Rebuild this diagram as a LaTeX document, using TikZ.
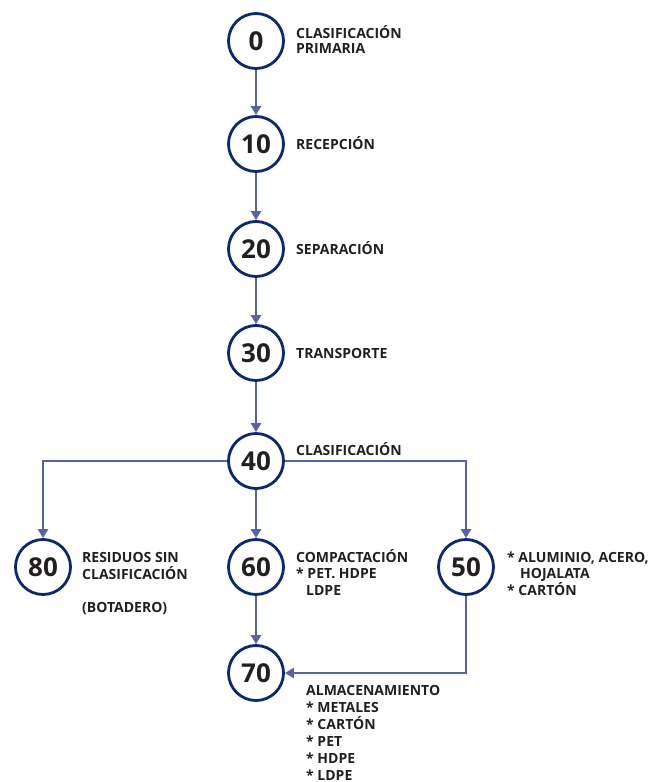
\documentclass[tikz,border=0pt]{standalone}
\usepackage{fontspec}
\setmainfont{Open Sans}
\usetikzlibrary{arrows.meta}
\definecolor{circblue}{RGB}{14,40,110}
\definecolor{linkblue}{RGB}{88,100,162}
\definecolor{txtgray}{RGB}{35,31,32}
\begin{document}
\begin{tikzpicture}[x=1pt,y=-1pt]
  \tikzstyle{stage}=[circle,draw=circblue,line width=2.8pt,minimum size=55pt,inner sep=0pt,
    text=txtgray,font=\fontsize{26}{26}\selectfont\bfseries]
  \tikzstyle{label}=[anchor=base west,inner sep=0pt,align=left,text=txtgray,
    font=\fontsize{14}{16.5}\selectfont\bfseries]
  \tikzstyle{link}=[draw=linkblue,line width=2.8pt,-{Triangle[length=9pt,width=10pt]}]
  \useasboundingbox (0,0) rectangle (648,782);

  % labels are placed by the baseline of their last line
  \node[stage] (s0) at (256,41) {0};
  \node[label] (t0) at (296,53) {CLASIFICACIÓN\\[-1.5pt]PRIMARIA};

  \node[stage] (s10) at (256,144) {10};
  \node[label] (t10) at (296,149) {RECEPCIÓN};
  \draw[link] (s0) -- (s10);

  \node[stage] (s20) at (256,249) {20};
  \node[label] (t20) at (296,254) {SEPARACIÓN};
  \draw[link] (s10) -- (s20);

  \node[stage] (s30) at (256,353) {30};
  \node[label] (t30) at (296,358) {TRANSPORTE};
  \draw[link] (s20) -- (s30);

  \node[stage] (s40) at (256,461) {40};
  \node[label] (t40) at (296,455) {CLASIFICACIÓN};
  \draw[link] (s30) -- (s40);

  \node[stage] (s80) at (43,567) {80};
  \node[label] (t80) at (82,612) {RESIDUOS SIN\\CLASIFICACIÓN\\[16.5pt](BOTADERO)};
  \draw[link] (s40.west) -| (s80.north);

  \node[stage] (s60) at (256,567) {60};
  \node[label] (t60) at (296,595) {COMPACTACIÓN\\* PET. HDPE\\\hspace*{10pt}LDPE};
  \draw[link] (s40) -- (s60);

  \node[stage] (s50) at (466,567) {50};
  \node[label] (t50) at (507,595) {* ALUMINIO, ACERO,\\\hspace*{13pt}HOJALATA\\* CARTÓN};
  \draw[link] (s40.east) -| (s50.north);

  \node[stage] (s70) at (256,673) {70};
  \node[label,font=\fontsize{14}{17}\selectfont\bfseries] (t70) at (306,780)
    {ALMACENAMIENTO\\* METALES\\* CARTÓN\\* PET\\* HDPE\\* LDPE};
  \draw[link] (s60) -- (s70);
  \draw[link] (s50.south) |- (s70.east);
\end{tikzpicture}
\end{document}
